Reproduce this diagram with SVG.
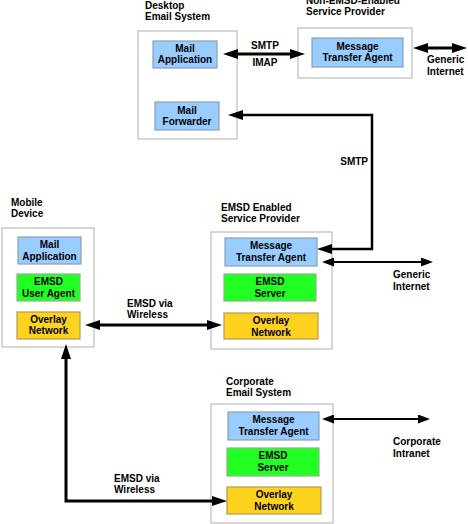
<svg xmlns="http://www.w3.org/2000/svg" width="468" height="524" viewBox="0 0 468 524">
<style>
text{font-family:"Liberation Sans",Arial,sans-serif;font-size:10px;font-weight:bold;fill:#000}
.c{text-anchor:middle}
.box{fill:#fff;stroke:#bdbdbd;stroke-width:1.2}
.blue{fill:#99ccff;stroke:#8c9fb3;stroke-width:1.2}
.green{fill:#22ff22;stroke:#8cb38c;stroke-width:1.2}
.yellow{fill:#ffd21e;stroke:#b39a5a;stroke-width:1.2}
.thick{fill:none;stroke:#000;stroke-width:3}
.mid{fill:none;stroke:#000;stroke-width:2.5}
.thin{fill:none;stroke:#000;stroke-width:2}
</style>
<defs>
<marker id="hb" markerUnits="userSpaceOnUse" viewBox="0 0 15 10" refX="1" refY="5" markerWidth="15" markerHeight="10" orient="auto-start-reverse"><path d="M0,0 L15,5 L0,10 z" fill="#000"/></marker>
<marker id="hs" markerUnits="userSpaceOnUse" viewBox="0 0 12 9" refX="1" refY="4.5" markerWidth="12" markerHeight="9" orient="auto-start-reverse"><path d="M0,0 L12,4.5 L0,9 z" fill="#000"/></marker>
</defs>

<g id="desktop">
<text x="145" y="9">Desktop</text>
<text x="145" y="20">Email System</text>
<rect class="box" x="138" y="31" width="99" height="108"/>
</g>
<g id="desktop-mail-app">
<rect class="blue" x="153" y="41" width="64" height="27"/>
<text class="c" x="185" y="52">Mail</text>
<text class="c" x="185" y="63">Application</text>
</g>
<g id="desktop-mail-forwarder">
<rect class="blue" x="155" y="102" width="64" height="28"/>
<text class="c" x="187" y="114">Mail</text>
<text class="c" x="187" y="125">Forwarder</text>
</g>

<g id="non-emsd">
<text x="306" y="4">Non-EMSD-Enabled</text>
<text x="306" y="15">Service Provider</text>
<rect class="box" x="298" y="28" width="114" height="50"/>
</g>
<g id="non-emsd-mta">
<rect class="blue" x="312" y="38" width="91" height="29"/>
<text class="c" x="357.5" y="50">Message</text>
<text class="c" x="357.5" y="61">Transfer Agent</text>
</g>

<g id="mobile">
<text x="11" y="206">Mobile</text>
<text x="11" y="217">Device</text>
<rect class="box" x="2" y="228" width="92" height="119"/>
</g>
<g id="mobile-mail-app">
<rect class="blue" x="18" y="237" width="63" height="27"/>
<text class="c" x="49.5" y="248">Mail</text>
<text class="c" x="49.5" y="260">Application</text>
</g>
<g id="mobile-user-agent">
<rect class="green" x="17" y="274" width="63" height="27"/>
<text class="c" x="48.5" y="285">EMSD</text>
<text class="c" x="48.5" y="297">User Agent</text>
</g>
<g id="mobile-overlay">
<rect class="yellow" x="17" y="312" width="63" height="27"/>
<text class="c" x="48.5" y="323">Overlay</text>
<text class="c" x="48.5" y="334">Network</text>
</g>

<g id="emsd-sp">
<text x="221" y="211">EMSD Enabled</text>
<text x="221" y="222">Service Provider</text>
<rect class="box" x="211" y="232" width="121" height="117"/>
</g>
<g id="emsd-sp-mta">
<rect class="blue" x="225" y="238" width="92" height="28"/>
<text class="c" x="271" y="249">Message</text>
<text class="c" x="271" y="261">Transfer Agent</text>
</g>
<g id="emsd-sp-server">
<rect class="green" x="224" y="274" width="92" height="27"/>
<text class="c" x="270" y="285">EMSD</text>
<text class="c" x="270" y="297">Server</text>
</g>
<g id="emsd-sp-overlay">
<rect class="yellow" x="224" y="313" width="94" height="26"/>
<text class="c" x="271" y="324">Overlay</text>
<text class="c" x="271" y="336">Network</text>
</g>

<g id="corporate">
<text x="226" y="385">Corporate</text>
<text x="226" y="396">Email System</text>
<rect class="box" x="211" y="404" width="122" height="119"/>
</g>
<g id="corp-mta">
<rect class="blue" x="228" y="412" width="91" height="28"/>
<text class="c" x="273.5" y="423">Message</text>
<text class="c" x="273.5" y="435">Transfer Agent</text>
</g>
<g id="corp-server">
<rect class="green" x="227" y="448" width="92" height="28"/>
<text class="c" x="273" y="459">EMSD</text>
<text class="c" x="273" y="471">Server</text>
</g>
<g id="corp-overlay">
<rect class="yellow" x="227" y="487" width="94" height="27"/>
<text class="c" x="274" y="498">Overlay</text>
<text class="c" x="274" y="510">Network</text>
</g>

<g id="connectors">
<path class="thick" d="M237,54 L291,54" marker-start="url(#hb)" marker-end="url(#hb)"/>
<text class="c" x="265" y="49">SMTP</text>
<text class="c" x="265" y="66">IMAP</text>

<path class="thick" d="M427,48 L453,48" marker-start="url(#hb)" marker-end="url(#hb)"/>
<text x="427" y="63">Generic</text>
<text x="427" y="75">Internet</text>

<path class="mid" d="M331,249 L372,249 L372,115 L242,115" marker-start="url(#hb)" marker-end="url(#hb)"/>
<text x="368" y="165" text-anchor="end">SMTP</text>

<path class="thin" d="M333,262 L422,262" marker-start="url(#hs)" marker-end="url(#hs)"/>
<text x="393" y="278">Generic</text>
<text x="393" y="290">Internet</text>

<path class="thick" d="M99,325 L208,325" marker-start="url(#hb)" marker-end="url(#hb)"/>
<text x="127" y="307">EMSD via</text>
<text x="127" y="318">Wireless</text>

<path class="thick" d="M66,358 L66,501 L213,501" marker-start="url(#hb)" marker-end="url(#hb)"/>
<text x="114" y="482">EMSD via</text>
<text x="114" y="493">Wireless</text>

<path class="thin" d="M333,419 L419,419" marker-start="url(#hs)" marker-end="url(#hs)"/>
<text x="393" y="445">Corporate</text>
<text x="393" y="457">Intranet</text>
</g>
</svg>
